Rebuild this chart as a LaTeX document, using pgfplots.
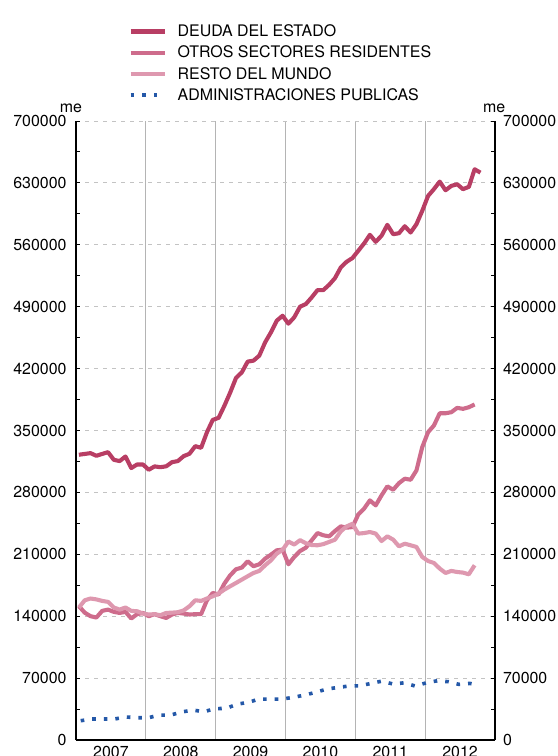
\documentclass[border=0pt]{standalone}
\usepackage{fontspec}
\setmainfont{TeX Gyre Heros}
\usepackage{pgfplots}
\pgfplotsset{compat=1.18}
\definecolor{cDeuda}{RGB}{184,62,100}
\definecolor{cOtros}{RGB}{206,108,140}
\definecolor{cResto}{RGB}{222,152,175}
\definecolor{cAdm}{RGB}{36,88,168}
\definecolor{cgrid}{RGB}{195,195,195}
\definecolor{cyear}{RGB}{180,180,180}
\begin{document}
\begin{tikzpicture}
\useasboundingbox (0,0) rectangle (558bp,756bp);
\pgfplotsset{
  common/.style={
    at={(76bp,16bp)}, anchor=south west,
    scale only axis, width=419bp, height=619bp,
    xmin=0, xmax=72, ymin=0, ymax=700000,
    clip=false,
    scaled y ticks=false,
    axis line style={-},
    ytick={0,70000,140000,210000,280000,350000,420000,490000,560000,630000,700000},
    yticklabels={0,70000,140000,210000,280000,350000,420000,490000,560000,630000,700000},
    minor ytick={35000,105000,175000,245000,315000,385000,455000,525000,595000,665000},
    tick align=inside,
    major tick length=4bp, minor tick length=4bp,
    tick label style={font=\fontsize{16}{19}\selectfont},
    y tick style={black, line width=1bp},
  }
}
\begin{axis}[common,
  axis x line*=bottom, axis y line*=left,
  x axis line style={line width=2.4bp},
  y axis line style={line width=1.3bp},
  xtick={6,18,30,42,54,66},
  xticklabels={2007,2008,2009,2010,2011,2012},
  xticklabel style={yshift=-3bp},
  major x tick style={draw=none},
  minor xtick={12,24,36,48,60},
  minor x tick style={draw=none},
  xminorgrids, minor x grid style={cyear, line width=1.3bp},
  ymajorgrids, major y grid style={cgrid, dash pattern=on 4bp off 5bp, line width=1bp},
  yticklabel style={xshift=-6bp},
  legend style={draw=none, fill=none, at={(0.125,1.159)}, anchor=north west,
    font=\fontsize{16}{19}\selectfont, row sep=3.8bp, inner sep=0pt,
    cells={anchor=west},
    /tikz/every odd column/.append style={column sep=9bp}},
  legend image code/.code={\draw[#1] (0bp,0bp) -- (34bp,0bp);},
  legend cell align=left,
]
\addplot[cDeuda, line width=4.1bp, line join=round] table[x=x, y=y] {
x y
0.5 322600
1.5 323500
2.5 324400
3.5 321400
4.5 323500
5.5 325500
6.5 316900
7.5 315400
8.5 320600
9.5 307500
10.5 311600
11.5 311600
12.5 305600
13.5 309400
14.5 308500
15.5 309500
16.5 314200
17.5 315400
18.5 321000
19.5 323700
20.5 332300
21.5 330400
22.5 348000
23.5 362000
24.5 364300
25.5 378000
26.5 393000
27.5 409500
28.5 415800
29.5 427900
30.5 429000
31.5 434700
32.5 449700
33.5 461000
34.5 474200
35.5 479800
36.5 470800
37.5 478000
38.5 490000
39.5 493000
40.5 500500
41.5 508800
42.5 508800
43.5 514800
44.5 522300
45.5 534400
46.5 540800
47.5 545000
48.5 553200
49.5 561500
50.5 571300
51.5 563400
52.5 570200
53.5 582600
54.5 572000
55.5 573100
56.5 581000
57.5 573900
58.5 583300
59.5 598400
60.5 615300
61.5 622900
62.5 631500
63.5 621700
64.5 626600
65.5 628500
66.5 622900
67.5 625500
68.5 645400
69.5 641600
};
\addlegendentry{DEUDA DEL ESTADO}
\addplot[cOtros, line width=4.1bp, line join=round] table[x=x, y=y] {
x y
0.5 151300
1.5 144000
2.5 140000
3.5 138500
4.5 146000
5.5 147500
6.5 144900
7.5 143700
8.5 144900
9.5 137400
10.5 142300
11.5 143700
12.5 140000
13.5 142300
14.5 140000
15.5 138000
16.5 141900
17.5 143700
18.5 143000
19.5 141900
20.5 142300
21.5 142300
22.5 158000
23.5 166300
24.5 164500
25.5 176900
26.5 186300
27.5 193100
28.5 195000
29.5 202100
30.5 196500
31.5 198700
32.5 205100
33.5 209600
34.5 214500
35.5 215300
36.5 198700
37.5 207000
38.5 213700
39.5 217500
40.5 225800
41.5 234000
42.5 231500
43.5 230300
44.5 236300
45.5 241600
46.5 240100
47.5 240800
48.5 255000
49.5 261600
50.5 271000
51.5 265300
52.5 276600
53.5 286800
54.5 283000
55.5 290500
56.5 295500
57.5 294300
58.5 304800
59.5 331200
60.5 348100
61.5 355600
62.5 369500
63.5 369500
64.5 370700
65.5 375600
66.5 374500
67.5 376300
68.5 379400
};
\addlegendentry{OTROS SECTORES RESIDENTES}
\addplot[cResto, line width=4.1bp, line join=round] table[x=x, y=y] {
x y
0.5 149800
1.5 158000
2.5 160000
3.5 159000
4.5 157300
5.5 156200
6.5 149800
7.5 147500
8.5 149800
9.5 146000
10.5 145600
11.5 143000
12.5 141900
13.5 142300
14.5 141100
15.5 143700
16.5 144000
17.5 144500
18.5 146500
19.5 151300
20.5 158000
21.5 157300
22.5 160000
23.5 162500
24.5 165600
25.5 170100
26.5 173900
27.5 177600
28.5 181400
29.5 185200
30.5 188900
31.5 191200
32.5 197600
33.5 203200
34.5 210800
35.5 215000
36.5 224500
37.5 221000
38.5 226000
39.5 222500
40.5 220500
41.5 220200
42.5 221500
43.5 224000
44.5 226500
45.5 236000
46.5 241500
47.5 244500
48.5 233400
49.5 234000
50.5 235200
51.5 233400
52.5 225000
53.5 230300
54.5 226600
55.5 219000
56.5 222000
57.5 220200
58.5 218300
59.5 207000
60.5 202400
61.5 200200
62.5 193900
63.5 188900
64.5 191200
65.5 190000
66.5 189300
67.5 187400
68.5 197600
};
\addlegendentry{RESTO DEL MUNDO}
\addplot[cAdm, line width=3.6bp, dash pattern=on 3.6bp off 8bp] table[x=x, y=y] {
x y
0.81 21800
2.69 23700
4.68 23700
6.57 23700
8.57 26000
10.51 25200
12.46 25200
14.28 28200
16.23 28200
18.17 31600
20.01 33900
22.0 32000
23.88 35400
25.83 35800
27.72 40600
29.61 42500
31.42 46300
33.43 46300
35.31 46300
37.37 48200
39.26 50800
41.14 53800
43.08 57600
44.97 59400
46.85 61000
48.81 61300
50.69 64000
52.58 66600
54.51 63200
56.4 64700
58.29 61000
60.22 64700
62.11 67000
64.0 65900
65.83 62900
67.66 64000
69.14 62100
};
\addlegendentry{ADMINISTRACIONES PUBLICAS}
\node[font=\fontsize{16}{19}\selectfont, anchor=base] at (rel axis cs:-0.012,1.013) {me};
\end{axis}
\begin{axis}[common,
  axis x line=none, axis y line*=right,
  y axis line style={line width=1.3bp},
  yticklabel style={xshift=4.5bp},
]
\node[font=\fontsize{16}{19}\selectfont, anchor=base] at (rel axis cs:0.998,1.013) {me};
\end{axis}
\end{tikzpicture}
\end{document}
